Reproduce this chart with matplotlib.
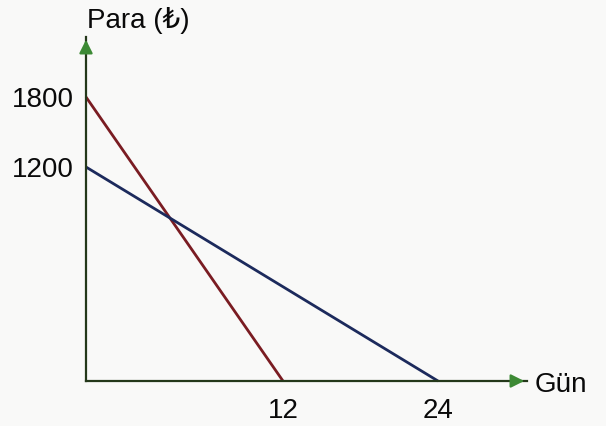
import numpy as np
import matplotlib
matplotlib.use("Agg")
import matplotlib.pyplot as plt

# ---- data ----
days = [0, 12, 24]
series_red = {"x": [0, 12], "y": [1800, 0]}
series_blue = {"x": [0, 24], "y": [1200, 0]}
yticks = [1200, 1800]
xticks = [12, 24]
ylabel = "Para (₺)"
xlabel = "Gün"

plt.rcParams['font.family'] = ['Liberation Sans', 'DejaVu Sans']

W, H = 606, 426
fig = plt.figure(figsize=(W / 100, H / 100), dpi=100)
fig.patch.set_facecolor('#f9f9f8')

# hand-drawn (not to scale) axes: piecewise mapping to pixels
xk = np.array([-100, 0, 12, 24, 200])
xp = np.array([-1640, 0, 197, 352, 352 + 176 * 12.9])
yk = np.array([-5000, 0, 1200, 1800, 10000])
yp = np.array([-890, 0, 214, 284, 284 + 8200 * 0.117])

fx = lambda v: np.interp(v, xk, xp)
ix = lambda v: np.interp(v, xp, xk)
fy = lambda v: np.interp(v, yk, yp)
iy = lambda v: np.interp(v, yp, yk)

ox, oy = 86, 381
tipx, tipy = 527, 37
ax = fig.add_axes([ox / W, (H - oy) / H, (tipx - ox) / W, (oy - tipy) / H])
ax.set_facecolor('none')
ax.set_xscale('function', functions=(fx, ix))
ax.set_yscale('function', functions=(fy, iy))
ax.set_xlim(0, ix(tipx - ox))
ax.set_ylim(0, iy(oy - tipy))

ax.plot(series_red["x"], series_red["y"], color='#7a1c22', lw=2.0, solid_capstyle='butt', clip_on=False)
ax.plot(series_blue["x"], series_blue["y"], color='#1c2a5c', lw=2.0, solid_capstyle='butt', clip_on=False)

for s in ['top', 'right']:
    ax.spines[s].set_visible(False)
for s in ['left', 'bottom']:
    ax.spines[s].set_color('#24381a')
    ax.spines[s].set_linewidth(1.6)

ax.set_xticks(xticks)
ax.set_xticklabels([str(v) for v in xticks])
ax.set_yticks(yticks)
ax.set_yticklabels([str(v) for v in yticks])
ax.tick_params(axis='both', length=0, labelsize=20, colors='#0a0a0a')
ax.tick_params(axis='y', pad=9)
ax.tick_params(axis='x', pad=12)
ax.minorticks_off()

green = '#3d8a35'
ax.annotate('', xy=(0, 1.0), xytext=(0, 0.96), xycoords='axes fraction',
            arrowprops=dict(arrowstyle='-|>', color=green, lw=1.6, mutation_scale=20))
ax.annotate('', xy=(1.0, 0), xytext=(0.96, 0), xycoords='axes fraction',
            arrowprops=dict(arrowstyle='-|>', color=green, lw=1.6, mutation_scale=20))

fig.text(87 / W, (H - 28) / H, ylabel, fontsize=20, ha='left', va='baseline', color='#0a0a0a')
fig.text(535 / W, (H - 392) / H, xlabel, fontsize=20, ha='left', va='baseline', color='#0a0a0a')

fig.savefig('out.png', dpi=100, facecolor=fig.get_facecolor())
